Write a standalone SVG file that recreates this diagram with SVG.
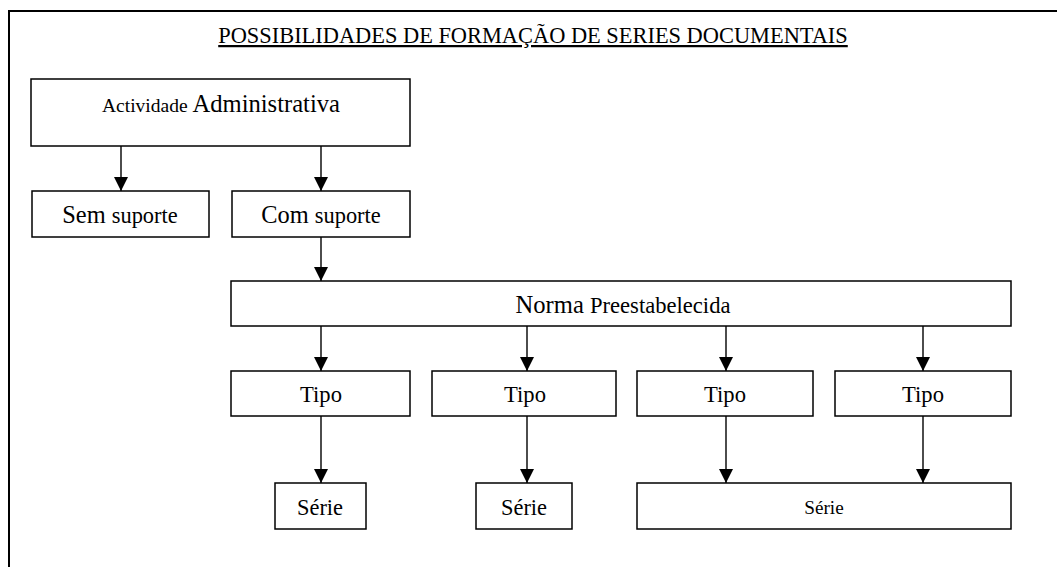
<svg xmlns="http://www.w3.org/2000/svg" width="1057" height="567" viewBox="0 0 1057 567">
<style>
.box{fill:#fff;stroke:#000;stroke-width:1.5}
.t{font-family:"Liberation Serif","Times New Roman",serif;fill:#000;text-anchor:middle}
.conn{stroke:#000;stroke-width:1.4;fill:none;marker-end:url(#ah)}
</style>
<defs>
<marker id="ah" markerUnits="userSpaceOnUse" markerWidth="16" markerHeight="16" refX="14" refY="7" orient="auto">
<path d="M0,0 L14,7 L0,14 Z" fill="#000"/>
</marker>
</defs>
<rect width="1057" height="567" fill="#fff"/>
<path d="M9,567 L9,11 L1057,11" fill="none" stroke="#000" stroke-width="2"/>
<text class="t" x="533" y="43" font-size="22.4" text-decoration="underline">POSSIBILIDADES DE FORMAÇÃO DE SERIES DOCUMENTAIS</text>

<g id="connectors">
<path class="conn" d="M121,146 L121,191"/>
<path class="conn" d="M321,146 L321,191"/>
<path class="conn" d="M321,237 L321,281"/>
<path class="conn" d="M321,326 L321,371"/>
<path class="conn" d="M527,326 L527,371"/>
<path class="conn" d="M726,326 L726,371"/>
<path class="conn" d="M923,326 L923,371"/>
<path class="conn" d="M321,416 L321,483"/>
<path class="conn" d="M527,416 L527,483"/>
<path class="conn" d="M726,416 L726,483"/>
<path class="conn" d="M923,416 L923,483"/>
</g>

<g id="actividade">
<rect class="box" x="31" y="79" width="379" height="67"/>
<text class="t" x="221" y="112"><tspan font-size="19.5">Actividade </tspan><tspan font-size="24.6">Administrativa</tspan></text>
</g>
<g id="sem-suporte">
<rect class="box" x="32" y="191" width="177" height="46"/>
<text class="t" x="120" y="223"><tspan font-size="24.4">Sem </tspan><tspan font-size="22.4">suporte</tspan></text>
</g>
<g id="com-suporte">
<rect class="box" x="232" y="191" width="178" height="46"/>
<text class="t" x="321" y="223"><tspan font-size="24.4">Com </tspan><tspan font-size="22.4">suporte</tspan></text>
</g>
<g id="norma">
<rect class="box" x="231" y="281" width="780" height="45"/>
<text class="t" x="623" y="313"><tspan font-size="24.6">Norma </tspan><tspan font-size="22.6">Preestabelecida</tspan></text>
</g>
<g id="tipo1">
<rect class="box" x="231" y="371" width="179" height="45"/>
<text class="t" x="321" y="402" font-size="22.6">Tipo</text>
</g>
<g id="tipo2">
<rect class="box" x="432" y="371" width="184" height="45"/>
<text class="t" x="525" y="402" font-size="22.6">Tipo</text>
</g>
<g id="tipo3">
<rect class="box" x="637" y="371" width="176" height="45"/>
<text class="t" x="725" y="402" font-size="22.6">Tipo</text>
</g>
<g id="tipo4">
<rect class="box" x="835" y="371" width="176" height="45"/>
<text class="t" x="923" y="402" font-size="22.6">Tipo</text>
</g>
<g id="serie1">
<rect class="box" x="275" y="483" width="91" height="46"/>
<text class="t" x="320" y="515" font-size="22.4">Série</text>
</g>
<g id="serie2">
<rect class="box" x="476" y="483" width="96" height="46"/>
<text class="t" x="524" y="515" font-size="22.4">Série</text>
</g>
<g id="serie3">
<rect class="box" x="637" y="483" width="374" height="46"/>
<text class="t" x="824" y="514" font-size="19.2">Série</text>
</g>
</svg>
